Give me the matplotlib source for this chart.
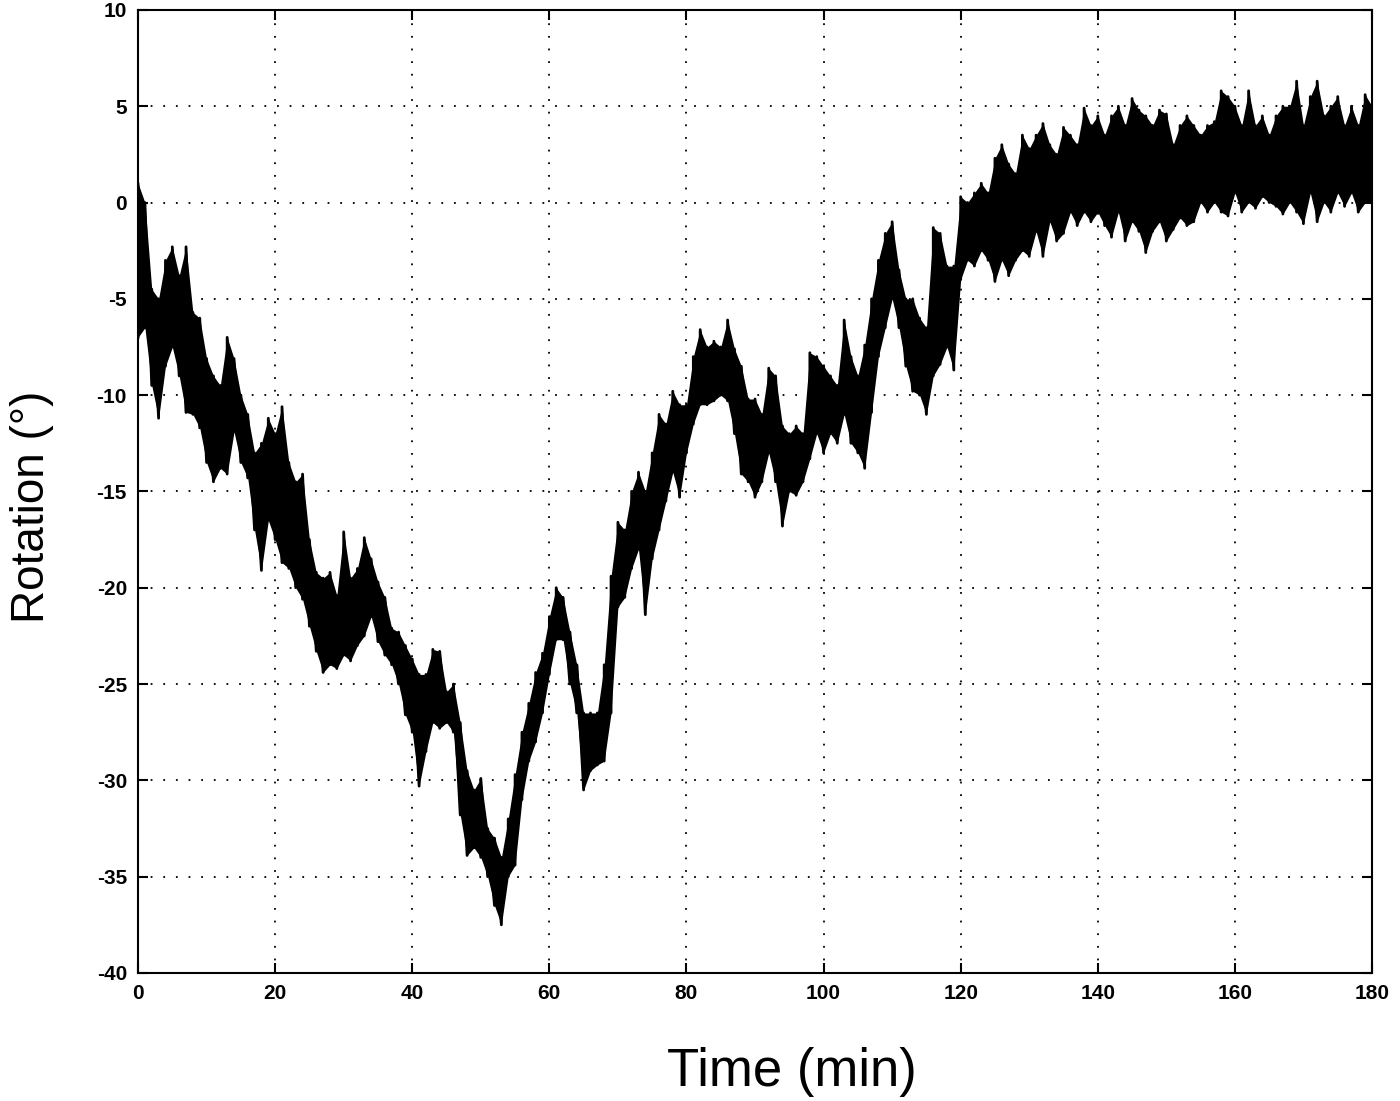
import matplotlib
matplotlib.use("Agg")
import matplotlib.pyplot as plt
import numpy as np

# time in minutes, upper / lower edge of the noisy trace
time_min = list(range(0, 181))

rot_hi = [
    1.0, 0.0, -4.5, -5.0, -3.0, -2.3, -3.8, -2.3, -5.7, -6.0,
    -8.1, -9.0, -9.5, -7.0, -8.1, -10.0, -11.0, -13.0, -12.5, -11.2,
    -12.0, -10.6, -13.5, -14.5, -14.1, -17.5, -19.2, -19.5, -19.2, -20.4,
    -17.1, -19.5, -19.0, -17.4, -18.5, -19.7, -20.5, -22.1, -22.3, -23.0,
    -23.7, -24.5, -24.5, -23.2, -23.3, -25.4, -25.0, -27.0, -29.5, -30.5,
    -29.9, -32.5, -33.0, -34.0, -32.0, -29.7, -27.5, -26.0, -24.4, -23.4,
    -21.5, -20.0, -20.5, -22.3, -24.0, -26.5, -26.5, -26.5, -24.0, -19.4,
    -16.6, -17.0, -15.0, -14.0, -15.0, -13.0, -11.0, -11.5, -9.8, -10.5,
    -10.5, -8.0, -6.6, -7.5, -7.2, -7.5, -6.1, -7.6, -8.5, -10.2,
    -10.2, -11.0, -8.6, -9.0, -11.6, -12.0, -11.6, -12.0, -7.8, -8.0,
    -8.5, -9.0, -9.5, -6.1, -8.0, -9.0, -7.4, -5.0, -3.0, -1.6,
    -1.0, -3.5, -5.0, -5.0, -6.0, -6.5, -1.3, -1.6, -3.3, -3.3,
    0.3, 0.0, 0.5, 1.0, 0.5, 2.3, 3.0, 2.0, 1.5, 3.5,
    2.8, 3.5, 4.1, 3.0, 2.5, 3.9, 3.5, 3.0, 4.9, 4.0,
    4.5, 3.5, 4.5, 5.0, 4.0, 5.4, 4.8, 4.5, 4.0, 4.8,
    4.6, 3.0, 4.0, 4.5, 4.0, 3.5, 4.0, 4.2, 5.8, 5.5,
    5.0, 4.0, 5.8, 4.0, 4.5, 3.5, 4.5, 5.0, 5.0, 6.3,
    4.0, 5.5, 6.3, 4.5, 5.0, 5.5, 4.0, 5.0, 4.0, 5.6,
    5.0,
]

rot_lo = [
    -7.0, -6.5, -9.5, -11.2, -8.5, -7.5, -9.0, -10.9, -11.0, -11.7,
    -13.5, -14.5, -13.8, -14.1, -11.9, -13.5, -14.3, -17.0, -19.1, -16.5,
    -17.5, -18.7, -19.0, -20.0, -20.6, -22.0, -23.3, -24.4, -24.0, -24.2,
    -23.5, -23.8, -23.0, -22.5, -21.5, -22.8, -23.5, -24.0, -25.0, -26.6,
    -27.5, -30.3, -28.5, -27.0, -27.3, -27.0, -27.5, -31.8, -33.9, -33.5,
    -34.0, -35.0, -36.5, -37.5, -35.0, -34.4, -31.0, -29.0, -28.0, -26.5,
    -24.5, -22.7, -22.7, -25.0, -26.5, -30.5, -29.5, -29.2, -29.0, -26.5,
    -21.0, -20.5, -19.0, -18.0, -21.4, -18.5, -17.0, -15.5, -14.0, -15.3,
    -13.0, -11.5, -10.5, -10.5, -10.3, -10.0, -10.3, -12.0, -14.1, -14.5,
    -15.3, -14.5, -13.0, -14.5, -16.8, -15.0, -15.2, -14.5, -13.3, -12.0,
    -13.0, -12.0, -12.5, -11.0, -12.5, -13.0, -13.8, -10.9, -8.0, -6.5,
    -5.0, -6.5, -8.5, -9.8, -10.0, -11.0, -9.0, -8.4, -7.5, -8.7,
    -4.0, -3.0, -3.3, -2.5, -3.0, -4.1, -3.0, -3.8, -3.0, -2.5,
    -2.8, -1.5, -2.8, -1.0, -2.0, -1.6, -0.5, -1.2, -0.5, -1.0,
    -0.5, -1.2, -1.8, -0.5, -2.0, -1.0, -1.5, -2.6, -1.5, -1.0,
    -2.0, -1.4, -0.8, -1.2, -1.0, 0.0, -0.5, 0.0, -0.5, -0.7,
    0.5, -0.5, 0.0, -0.3, 0.3, 0.0, -0.2, -0.6, 0.0, -0.5,
    -1.1, 0.5, -1.0, 0.0, -0.5, 0.5, -0.2, 0.5, -0.5, 0.0,
    0.0,
]

x_ticks = [0, 20, 40, 60, 80, 100, 120, 140, 160, 180]
y_ticks = [-40, -35, -30, -25, -20, -15, -10, -5, 0, 5, 10]

plt.rcParams['font.family'] = ['Liberation Sans', 'DejaVu Sans']
plt.rcParams['axes.unicode_minus'] = False

fig = plt.figure(figsize=(14, 11.01), dpi=100)
ax = fig.add_axes([0.0986, 0.1163, 0.8814, 0.8747])

t = np.array(time_min, dtype=float)
hi = np.array(rot_hi)
lo = np.array(rot_lo)

# solid band between the edges, then a zigzag through both edges for texture
ax.fill_between(t, lo, hi, color='black', linewidth=0)
tz = np.repeat(t, 2)
yz = np.empty(2 * len(t))
yz[0::2] = lo
yz[1::2] = hi
ax.plot(tz, yz, color='black', linewidth=2.0)

ax.set_xlim(0, 180)
ax.set_ylim(-40, 10)
ax.set_xticks(x_ticks)
ax.set_yticks(y_ticks)
ax.tick_params(direction='in', length=7, width=1.5, top=True, right=True,
               labelsize=15, pad=8)
for lab in ax.get_xticklabels() + ax.get_yticklabels():
    lab.set_fontweight('bold')

ax.grid(True, color='black', linestyle=(0, (1, 6)), linewidth=1.3)
for sp in ax.spines.values():
    sp.set_linewidth(1.5)

ax.set_xlabel('Time (min)', fontsize=38)
ax.set_ylabel('Rotation (°)', fontsize=33)
ax.xaxis.set_label_coords(0.53, -0.077)
ax.yaxis.set_label_coords(-0.068, 0.484)

fig.savefig('out.png', dpi=100)
